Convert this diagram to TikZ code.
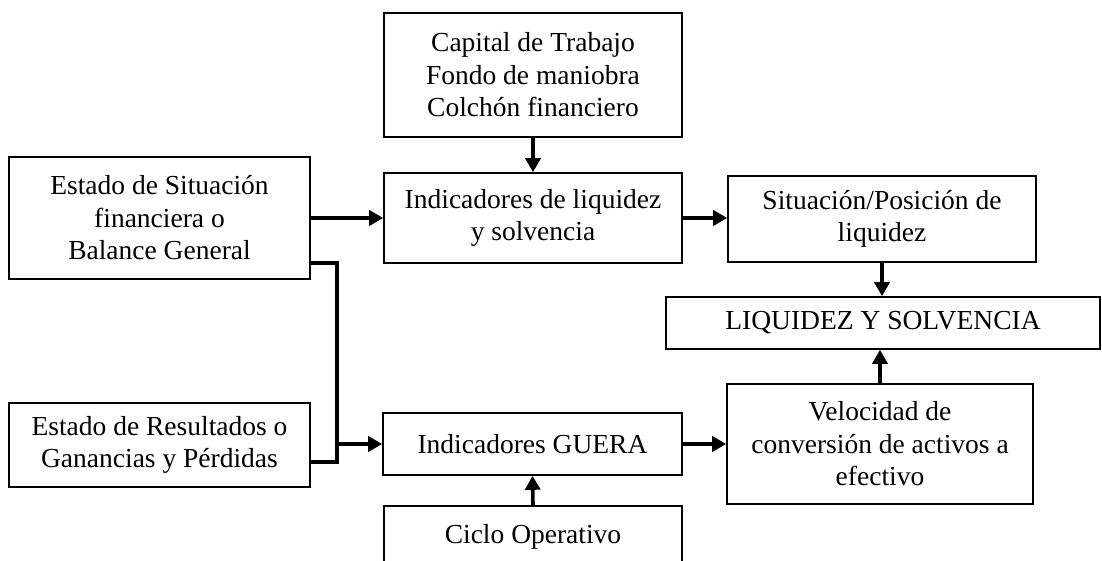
\documentclass[tikz,border=0pt]{standalone}
\usepackage{fontspec}
\setmainfont{Liberation Serif}
\usetikzlibrary{arrows.meta}
\begin{document}
\begin{tikzpicture}[x=1pt,y=-1pt,
  box/.style={draw, line width=1.6pt, align=center, inner sep=0pt,
    font=\fontsize{27.5}{32.5}\selectfont},
  conn/.style={line width=3.6pt, -{Triangle[length=14pt,width=15pt]}},
  wire/.style={line width=3.6pt}]
\useasboundingbox (0,0) rectangle (1102,561);
\clip (0,0) rectangle (1102,561);
\node[box, minimum width=298pt, minimum height=124pt] (cap) at (533,75) {Capital de Trabajo\\Fondo de maniobra\\Colchón financiero};
\node[box, minimum width=298pt, minimum height=90pt] (ind) at (533,218) {Indicadores de liquidez\\y solvencia};
\node[box, minimum width=301pt, minimum height=122pt] (est) at (159.5,218) {Estado de Situación\\financiera o\\Balance General};
\node[box, minimum width=301pt, minimum height=84pt] (res) at (159.5,445) {Estado de Resultados o\\Ganancias y Pérdidas};
\node[box, minimum width=299pt, minimum height=62pt] (guera) at (532.5,444) {Indicadores GUERA};
\node[box, minimum width=298pt, minimum height=62pt] (ciclo) at (533,537) {Ciclo Operativo};
\node[box, minimum width=308pt, minimum height=86pt] (sit) at (882,219) {Situación/Posición de\\liquidez};
\node[box, minimum width=434pt, minimum height=52pt] (liq) at (883,323) {LIQUIDEZ Y SOLVENCIA};
\node[box, minimum width=306pt, minimum height=120pt] (vel) at (880,444) {Velocidad de\\conversión de activos a\\efectivo};
\coordinate (j1) at (337,263);
\coordinate (j2) at (337,462);
\coordinate (j3) at (337,444);
\draw[conn] (cap.south) -- (ind.north);
\draw[conn] (est.east) -- (ind.west);
\draw[wire] (est.east |- j1) -- (j1) -- (j2) -- (res.east |- j2);
\draw[conn] (j3) -- (guera.west);
\draw[conn] (ind.east) -- (ind.east -| sit.west);
\draw[conn] (sit.south) -- (sit.south |- liq.north);
\draw[conn] (vel.north) -- (vel.north |- liq.south);
\draw[conn] (guera.east) -- (guera.east -| vel.west);
\draw[conn] (ciclo.north) -- (guera.south);
\end{tikzpicture}
\end{document}
